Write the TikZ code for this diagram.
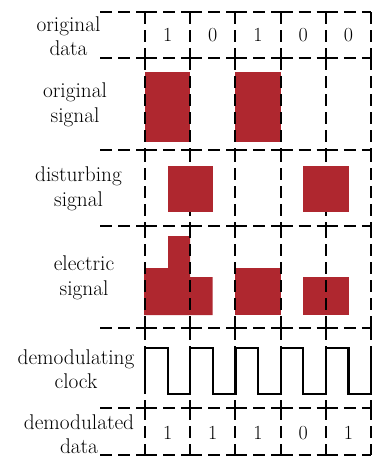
\documentclass[tikz,border=0pt]{standalone}
\definecolor{blockred}{RGB}{175,39,47}
\begin{document}
\begin{tikzpicture}[x=1pt,y=-1pt,
  gridline/.style={line width=1.9pt,dash pattern=on 12pt off 6pt},
  lbl/.style={align=center,inner sep=0pt,font=\fontsize{21.3}{24.5}\selectfont},
  digit/.style={inner sep=0pt,font=\fontsize{20}{24}\selectfont},
  sig/.style={fill=blockred},
  clk/.style={line width=2.2pt,line join=miter}]
\useasboundingbox (0,0) rectangle (377,459);

% signal blocks drawn under the grid
\fill[sig] (145,72) rectangle (190.2,142);
\fill[sig] (235.4,72) rectangle (280.6,142);
\fill[sig] (144,268) -- (168,268) -- (168,236) -- (190.2,236) -- (190.2,277)
  -- (212.5,277) -- (212.5,315) -- (144,315) -- cycle;
\fill[sig] (235.4,268) rectangle (280.6,315);
\fill[sig] (303,277) rectangle (349,315);

% horizontal rules, one dashed segment per cell
\foreach \y in {12,58,150,226,328,408,455} {
  \draw[gridline] (100,\y) -- (145,\y);
  \foreach \xa/\xb in {145/190.2,190.2/235.4,235.4/280.6,280.6/325.8,325.8/371}
    \draw[gridline] (\xa,\y) -- (\xb,\y);
}
% vertical rules, one dashed segment per row
\foreach \ya/\yb in {12/58,58/150,150/226,226/328,328/408,408/455}
  \foreach \x in {145,190.2,235.4,280.6,325.8,371}
    \draw[gridline] (\x,\ya) -- (\x,\yb);

% disturbing signal blocks
\fill[sig] (168,166) rectangle (213,212);
\fill[sig] (303,166) rectangle (349,212);

% demodulating clock
\draw[clk] (145,394) -- (145,348) -- (167.6,348) -- (167.6,394) -- (190.2,394)
  -- (190.2,348) -- (212.8,348) -- (212.8,394) -- (235.4,394)
  -- (235.4,348) -- (258,348) -- (258,394) -- (280.6,394)
  -- (280.6,348) -- (303.2,348) -- (303.2,394) -- (325.8,394)
  -- (325.8,348) -- (348.4,348) -- (348.4,394) -- (371,394) -- (371,348);

% row labels
\node[lbl] (l1) at (68.5,36) {original\\data};
\node[lbl] (l2) at (75,105) {original\\signal};
\node[lbl] (l3) at (78.5,189) {disturbing\\signal};
\node[lbl] (l4) at (84,278) {electric\\signal};
\node[lbl] (l5) at (76,369) {demodulating\\clock};
\node[lbl] (l6) at (79,434) {demodulated\\data};

% data values
\node[digit] (a1) at (167.6,35) {1};
\node[digit] (a2) at (212.8,35) {0};
\node[digit] (a3) at (258,35) {1};
\node[digit] (a4) at (303.2,35) {0};
\node[digit] (a5) at (348.4,35) {0};
\node[digit] (b1) at (167.6,433) {1};
\node[digit] (b2) at (212.8,433) {1};
\node[digit] (b3) at (258,433) {1};
\node[digit] (b4) at (303.2,433) {0};
\node[digit] (b5) at (348.4,433) {1};
\end{tikzpicture}
\end{document}
